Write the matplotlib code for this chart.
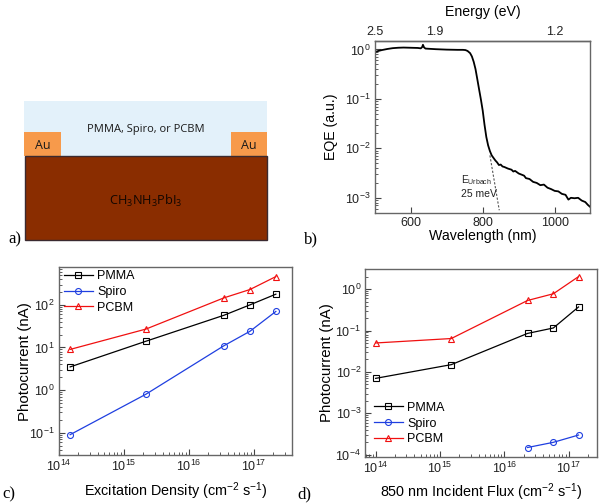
import matplotlib
matplotlib.use('Agg')
import matplotlib.pyplot as plt
from matplotlib.patches import Rectangle
from matplotlib.ticker import LogLocator, NullFormatter

plt.rcParams['font.family'] = ['Liberation Sans', 'DejaVu Sans']
plt.rcParams['mathtext.default'] = 'regular'
plt.rcParams['axes.edgecolor'] = '#666666'
plt.rcParams['axes.linewidth'] = 1.0

W, H = 600, 504

# panel b, EQE spectrum
wavelength = [500, 510, 520, 535, 550, 565, 580, 600, 620, 628, 632, 634, 637, 641, 650, 670, 700, 730,
              745, 752, 758, 765, 770, 775, 780, 785, 790, 795, 800, 805, 810, 815, 820, 825, 830, 835,
              840, 845, 850, 855, 860, 870, 880, 885, 890, 900, 910, 915, 920, 930, 940, 950, 960, 970,
              980, 990, 1000, 1010, 1020, 1030, 1038, 1045, 1055, 1065, 1075, 1085, 1092, 1100]
eqe = [0.88, 0.93, 0.97, 1.02, 1.06, 1.08, 1.09, 1.08, 1.07, 1.05, 1.12, 1.24, 1.1, 1.04, 1.03, 1.01, 0.99, 0.98,
       0.98, 0.97, 0.93, 0.84, 0.72, 0.56, 0.40, 0.25, 0.155, 0.097, 0.058, 0.030, 0.017, 0.0115, 0.0088, 0.0072, 0.0064, 0.0057,
       0.0052, 0.0046, 0.0047, 0.0043, 0.0042, 0.0039, 0.0037, 0.0034, 0.0035, 0.0031, 0.0029, 0.0028, 0.0025, 0.0024, 0.0021, 0.0020, 0.0018, 0.00185,
       0.0016, 0.0015, 0.00138, 0.00135, 0.0012, 0.00115, 0.00092, 0.00100, 0.00098, 0.00100, 0.00088, 0.00082, 0.00072, 0.00064]
urbach_x = [820, 846]
urbach_y = [0.0072, 0.00056]
energy_ticks = [500, 667, 1000]
energy_labels = ['2.5', '1.9', '1.2']

# panel c
exc_density = [1.5e14, 2.2e15, 3.5e16, 8.8e16, 2.2e17]
pmma_c = [3.5, 14, 57, 100, 178]
spiro_c = [0.09, 0.8, 11, 24, 70]
pcbm_c = [9, 27, 146, 229, 460]

# panel d
inc_flux = [1.0e14, 1.5e15, 2.3e16, 5.8e16, 1.43e17]
pmma_d = [0.007, 0.015, 0.085, 0.115, 0.37]
spiro_flux = [2.3e16, 5.8e16, 1.43e17]
spiro_d = [1.5e-4, 2.0e-4, 3.0e-4]
pcbm_d = [0.05, 0.064, 0.53, 0.77, 2.0]


def add_axes_px(fig, left, top, right, bottom):
    return fig.add_axes([left / W, 1 - bottom / H, (right - left) / W, (bottom - top) / H])


def style_log(ax, size=9):
    ax.tick_params(which='major', direction='in', length=4, width=0.8, color='#444444', labelsize=size, pad=3,
                   labelcolor='#222222')
    ax.tick_params(which='minor', direction='in', length=2, width=0.6, color='#444444')


def log_minor(axis):
    axis.set_major_locator(LogLocator(base=10, numticks=30))
    axis.set_minor_locator(LogLocator(base=10, subs=range(2, 10), numticks=30))
    axis.set_minor_formatter(NullFormatter())


def plot_series(ax, x, y, color, marker, label):
    ax.plot(x, y, color=color, marker=marker, mfc='none', mec=color, ms=4.3, mew=0.8, lw=0.9, label=label)


fig = plt.figure(figsize=(W / 100, H / 100), dpi=100)

# a) device schematic, drawn in pixel coordinates on an overlay
bg = fig.add_axes([0, 0, 1, 1])
bg.set_xlim(0, W)
bg.set_ylim(H, 0)
bg.axis('off')
bg.add_patch(Rectangle((24, 101), 243, 55, fc='#E3F1FA', ec='none'))
bg.add_patch(Rectangle((24, 131.5), 36.5, 24.5, fc='#F79A4B', ec='none'))
bg.add_patch(Rectangle((230.5, 131.5), 36.5, 24.5, fc='#F79A4B', ec='none'))
bg.add_patch(Rectangle((24.5, 156), 242, 84, fc='#8A2D00', ec='#3A2A30', lw=1.0))
schem_font = ['Open Sans', 'DejaVu Sans']
bg.text(145.5, 129.5, 'PMMA, Spiro, or PCBM', ha='center', va='center', fontsize=8, family=schem_font, color='#1a1a1a')
bg.text(42.5, 145.5, 'Au', ha='center', va='center', fontsize=9, family=schem_font, color='#1a1a1a')
bg.text(249, 145.5, 'Au', ha='center', va='center', fontsize=9, family=schem_font, color='#1a1a1a')
bg.text(146, 201, 'CH$_3$NH$_3$PbI$_3$', ha='center', va='center', fontsize=9.2, family=schem_font, color='#120600')

serif = ['Liberation Serif', 'DejaVu Serif']
bg.text(8, 239, 'a)', ha='left', va='center', fontsize=12, family=serif)
bg.text(304, 239, 'b)', ha='left', va='center', fontsize=12, family=serif)
bg.text(2, 494, 'c)', ha='left', va='center', fontsize=12, family=serif)
bg.text(297, 494, 'd)', ha='left', va='center', fontsize=12, family=serif)

# b) EQE
ax_b = add_axes_px(fig, 374.7, 40.7, 590, 212.7)
ax_b.semilogy(wavelength, eqe, color='k', lw=1.3)
ax_b.plot(urbach_x, urbach_y, color='#555555', lw=0.8, ls=(0, (2, 1.5)))
ax_b.set_xlim(500, 1098)
ax_b.set_ylim(5e-4, 1.5)
ax_b.set_xticks([600, 800, 1000])
log_minor(ax_b.yaxis)
style_log(ax_b)
ax_b.set_xlabel('Wavelength (nm)', fontsize=10.2, labelpad=0)
ax_b.set_ylabel('EQE (a.u.)', fontsize=10.2, labelpad=5)
ax_b.text(739, 0.0023, '$E_{Urbach}$', fontsize=7.2, ha='left', va='center', color='#222222')
ax_b.text(739, 0.0012, '25 meV', fontsize=7.5, ha='left', va='center', color='#222222')
top = ax_b.secondary_xaxis('top')
top.set_xticks(energy_ticks)
top.set_xticklabels(energy_labels)
top.tick_params(direction='in', length=0, labelsize=9, pad=2, labelcolor='#222222')
top.set_xlabel('Energy (eV)', fontsize=10.2, labelpad=7)

# c) excitation density
ax_c = add_axes_px(fig, 58.7, 267.3, 292, 455)
plot_series(ax_c, exc_density, pmma_c, 'k', 's', 'PMMA')
plot_series(ax_c, exc_density, spiro_c, '#1f3fe0', 'o', 'Spiro')
plot_series(ax_c, exc_density, pcbm_c, '#f01010', '^', 'PCBM')
ax_c.set_xscale('log')
ax_c.set_yscale('log')
ax_c.set_xlim(1e14, 3.9e17)
ax_c.set_ylim(0.03, 760)
log_minor(ax_c.xaxis)
log_minor(ax_c.yaxis)
style_log(ax_c)
ax_c.set_xlabel('Excitation Density (cm$^{-2}$ s$^{-1}$)', fontsize=10.4, labelpad=4)
ax_c.set_ylabel('Photocurrent (nA)', fontsize=10.8, labelpad=-2)
ax_c.legend(loc='upper left', frameon=False, fontsize=9, borderaxespad=0, bbox_to_anchor=(0.023, 0.985),
            handlelength=2.3, labelspacing=0.31, handletextpad=0.35, borderpad=0)

# d) incident flux
ax_d = add_axes_px(fig, 365.3, 269.3, 597.3, 456.7)
plot_series(ax_d, inc_flux, pmma_d, 'k', 's', 'PMMA')
plot_series(ax_d, spiro_flux, spiro_d, '#1f3fe0', 'o', 'Spiro')
plot_series(ax_d, inc_flux, pcbm_d, '#f01010', '^', 'PCBM')
ax_d.set_xscale('log')
ax_d.set_yscale('log')
ax_d.set_xlim(6.9e13, 2.8e17)
ax_d.set_ylim(9e-5, 3)
log_minor(ax_d.xaxis)
log_minor(ax_d.yaxis)
style_log(ax_d)
ax_d.set_xlabel('850 nm Incident Flux (cm$^{-2}$ s$^{-1}$)', fontsize=10.4, labelpad=4)
ax_d.set_ylabel('Photocurrent (nA)', fontsize=10.8, labelpad=1)
ax_d.legend(loc='lower left', frameon=False, fontsize=9, borderaxespad=0, bbox_to_anchor=(0.038, 0.06),
            handlelength=2.3, labelspacing=0.31, handletextpad=0.35, borderpad=0)

fig.savefig('out.png', dpi=100)
